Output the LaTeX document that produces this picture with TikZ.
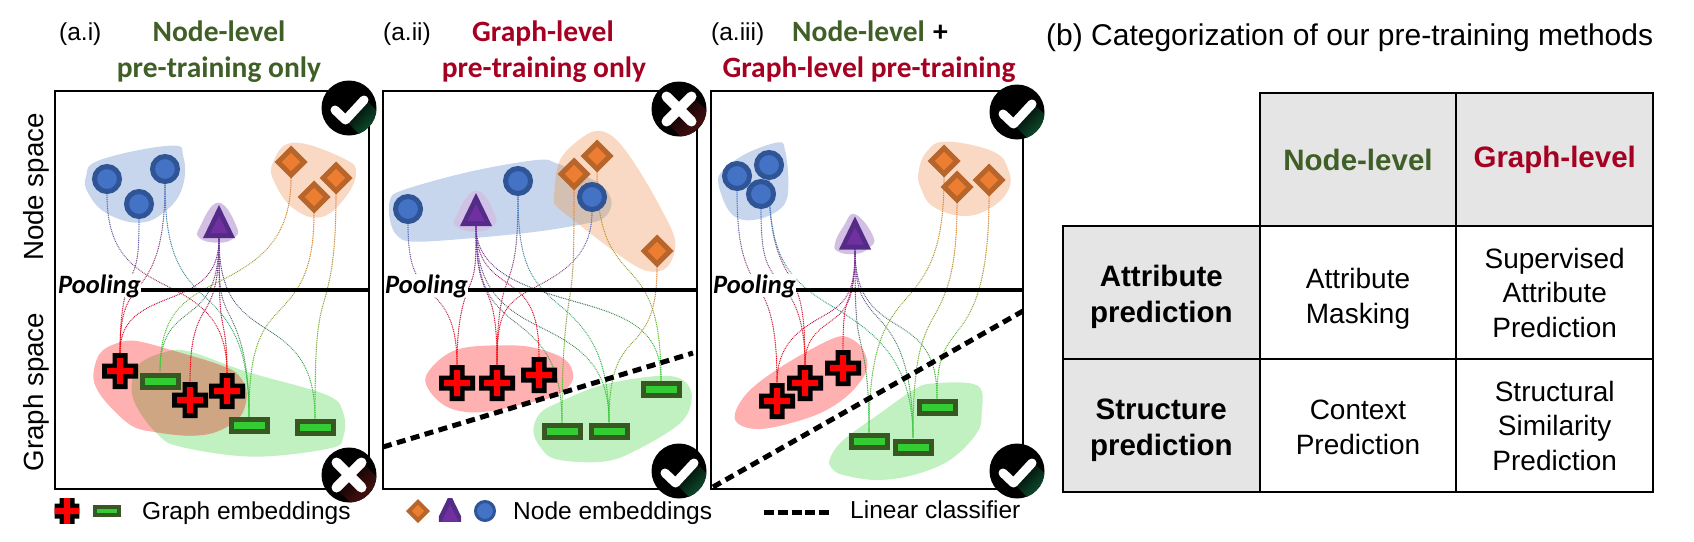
\documentclass[tikz,border=0pt]{standalone}
\usepackage{fontspec}
\setmainfont{Liberation Sans}
\newfontfamily\calfont{Carlito}
\usetikzlibrary{calc,shapes.geometric,decorations.markings}
\definecolor{bl}{HTML}{4472C4}\definecolor{bld}{HTML}{2F5597}
\definecolor{orn}{HTML}{ED7D31}\definecolor{ornd}{HTML}{B7652A}
\definecolor{pur}{HTML}{7030A0}\definecolor{purd}{HTML}{542C87}
\definecolor{rd}{HTML}{FF0000}\definecolor{grn}{HTML}{33CC33}\definecolor{grnd}{HTML}{385723}
\definecolor{bblue}{HTML}{C7D5ED}\definecolor{borange}{HTML}{F9D9C3}\definecolor{bpur}{HTML}{D2BFE3}
\definecolor{bred}{HTML}{FFB0B0}\definecolor{bgreen}{HTML}{C1F0C1}
\definecolor{ovlA}{HTML}{CFA684}\definecolor{ovlB}{HTML}{D4BFB3}
\definecolor{ttlgreen}{HTML}{3F5F27}\definecolor{ttlred}{HTML}{A50021}\definecolor{cellgray}{HTML}{E5E5E5}
\definecolor{shgreen}{HTML}{0F5A35}\definecolor{shred}{HTML}{561414}
\pgfdeclarelayer{blobs}\pgfdeclarelayer{conns}\pgfsetlayers{blobs,conns,main}
\tikzset{
 z/.style 2 args={shift={(#1,#2)},scale=0.33333},
 gradline/.style 2 args={decoration={markings,mark=between positions 0 and 1 step 1.8pt with {%
   \pgfmathtruncatemacro\pc{min(100,\pgfkeysvalueof{/pgf/decoration/mark info/distance from start}/\pgfdecoratedpathlength*100)}%
   \fill[#2!\pc!#1] (0,0) circle[radius=.7pt];}},postaction={decorate}},
 cnode/.style={circle,draw=bld,fill=bl,line width=5pt,minimum size=#1,inner sep=0pt},
 cnode/.default=25pt,
 dnode/.style={diamond,aspect=1,draw=ornd,fill=orn,line width=5pt,minimum size=#1,inner sep=0pt},
 dnode/.default=28pt,
 gnode/.style={rectangle,draw=grnd,fill=grn,line width=5pt,minimum width=36pt,minimum height=12pt,inner sep=0pt},
 tnode/.style={rectangle,inner sep=0pt,outer sep=0pt,minimum width=#1*32pt,minimum height=#1*33pt,
  path picture={\begin{scope}[shift={(path picture bounding box.center)},scale=#1]
    \fill[purd] (0,-16.5)--(16,16.5)--(-16,16.5)--cycle;
    \fill[pur] (0,-5.5)--(8.5,11.5)--(-8.5,11.5)--cycle;\end{scope}}},
 tnode/.default=1,
 pnode/.style={rectangle,inner sep=0pt,outer sep=0pt,minimum size=#1*36pt,
  path picture={\begin{scope}[shift={(path picture bounding box.center)},scale=#1]
    \fill[black] (-7.5,-18)--(7.5,-18)--(7.5,-7.5)--(18,-7.5)--(18,7.5)--(7.5,7.5)--(7.5,18)--(-7.5,18)--(-7.5,7.5)--(-18,7.5)--(-18,-7.5)--(-7.5,-7.5)--cycle;
    \fill[rd] (-3.2,-13)--(3.2,-13)--(3.2,-3.2)--(13,-3.2)--(13,3.2)--(3.2,3.2)--(3.2,13)--(-3.2,13)--(-3.2,3.2)--(-13,3.2)--(-13,-3.2)--(-3.2,-3.2)--cycle;\end{scope}}},
 pnode/.default=1,
 okbadge/.style={circle,fill=black,minimum size=55pt,inner sep=0pt,
  path picture={\begin{scope}[shift={(path picture bounding box.center)}]
    \shade[top color=shgreen,bottom color=black,shading angle=225] (-3,13)--(16,-9)--(32,7)--(11,27)--cycle;
    \draw[white,line width=9pt,line cap=round,line join=round] (-14,2)--(-3.5,12)--(15,-8);\end{scope}}},
 nobadge/.style={circle,fill=black,minimum size=55pt,inner sep=0pt,
  path picture={\begin{scope}[shift={(path picture bounding box.center)}]
    \shade[top color=shred,bottom color=black,shading angle=225] (13,-13)--(32,6)--(6,32)--(-13,13)--cycle;
    \draw[white,line width=10pt,line cap=round] (-12.5,-12.5)--(12.5,12.5) (12.5,-12.5)--(-12.5,12.5);\end{scope}}},
 frame/.style={draw=black,line width=2pt},
 poolline/.style={draw=black,line width=3.5pt},
 classline/.style={draw=black,line width=5pt,dash pattern=on 9pt off 5.5pt},
 pooltxt/.style={anchor=base west,fill=white,inner sep=0pt,font=\calfont\bfseries\itshape\fontsize{26.5}{30}\selectfont},
 lab/.style={anchor=base west,inner sep=0pt,font=\fontsize{24.5}{30}\selectfont},
 ttl/.style={anchor=base,inner sep=0pt,font=\calfont\bfseries\fontsize{29.5}{34}\selectfont},
 axislab/.style={anchor=base,rotate=90,inner sep=0pt,font=\fontsize{27.7}{32}\selectfont},
 tcell/.style={rectangle,draw=black,line width=2pt,minimum width=196.7pt,minimum height=133pt,inner sep=0pt,align=center},
 tbody/.style={tcell,font=\fontsize{28}{34.5}\selectfont},
 thead/.style={tcell,fill=cellgray,font=\bfseries\fontsize{29.5}{36}\selectfont},
 celltxt/.style={inner sep=0pt,align=center,font=\fontsize{28}{34.5}\selectfont},
 cellhead/.style={inner sep=0pt,align=center,font=\bfseries\fontsize{29.5}{36}\selectfont},
}
\newcommand{\conn}[5]{%
 \coordinate (m) at (#3);
 \path[gradline={#4}{#5}] let \p1=($(#2.north)-(#1.south)$) in
  (#1.south) .. controls ($(#1.south)!.6!(#1.south|-m)$) and ($(m)-(.3*\x1,.1*\y1)$) .. (m)
  .. controls ($(m)+(.3*\x1,.1*\y1)$) and ($(#2.north)!.6!(#2.north|-m)$) .. (#2.north);}
\begin{document}
\begin{tikzpicture}[x=1pt,y=-1pt]
\useasboundingbox (0,0) rectangle (1694,541);
% ---- blobs
\begin{pgfonlayer}{blobs}
\begin{scope}[z={0}{0}]
 \fill[bblue] plot[smooth cycle,tension=.7] coordinates {(258,530)(300,480)(510,437)(550,470)(548,560)(500,630)(420,668)(320,640)(265,580)};
 \fill[borange] plot[smooth cycle,tension=.7] coordinates {(818,490)(880,428)(1030,475)(1068,520)(1030,600)(960,652)(880,625)(825,550)};
 \fill[bpur] plot[smooth cycle,tension=.8] coordinates {(655,608)(710,680)(700,715)(655,728)(600,715)(600,680)};
\end{scope}
\begin{scope}[z={0}{270}]
 \def\rA{plot[smooth cycle,tension=.6] coordinates {(280,315)(300,250)(350,220)(410,213)(530,245)(660,285)(715,315)(740,370)(720,440)(650,485)(570,497)(470,487)(400,470)(340,420)(295,365)}}
 \def\gA{plot[smooth cycle,tension=.6] coordinates {(395,345)(420,280)(500,245)(570,245)(740,305)(980,375)(1030,430)(1030,500)(990,535)(760,560)(540,530)(470,490)(410,410)}}
 \fill[bgreen] \gA;
 \fill[bred] \rA;
 \begin{scope}\clip \gA; \fill[ovlA] \rA; \end{scope}
\end{scope}
\begin{scope}[z={370}{0}]
 \def\bB{plot[smooth cycle,tension=.6] coordinates {(60,600)(100,570)(300,515)(500,480)(560,490)(640,525)(700,560)(725,610)(700,655)(640,672)(500,695)(300,715)(130,725)(80,705)(60,660)}}
 \def\oB{plot[smooth cycle,tension=.6] coordinates {(552,590)(570,480)(640,410)(690,393)(740,420)(800,500)(870,620)(915,720)(900,790)(860,815)(800,800)(700,730)(610,660)(560,620)}}
 \fill[bblue] \bB;
 \fill[borange] \oB;
 \begin{scope}\clip \bB; \fill[ovlB] \oB; \end{scope}
 \fill[bpur!85!bblue] plot[smooth cycle,tension=.8] coordinates {(318,572)(375,645)(365,680)(318,695)(265,682)(258,650)};
\end{scope}
\begin{scope}[z={370}{270}]
 \fill[bred] plot[smooth cycle,tension=.6] coordinates {(168,318)(220,260)(290,232)(420,226)(500,235)(580,265)(608,305)(600,345)(550,380)(470,400)(380,420)(300,427)(230,410)(180,365)};
 \fill[bgreen] plot[smooth cycle,tension=.6] coordinates {(490,480)(510,430)(560,400)(680,350)(800,325)(900,318)(950,340)(965,390)(930,460)(800,540)(700,575)(560,568)(510,530)};
\end{scope}
\begin{scope}[z={700}{0}]
 \fill[bblue] plot[smooth cycle,tension=.6] coordinates {(55,550)(70,510)(140,460)(235,427)(255,450)(265,540)(255,610)(200,650)(130,660)(85,630)};
 \fill[borange] plot[smooth cycle,tension=.7] coordinates {(655,520)(680,455)(740,425)(880,455)(925,510)(925,570)(870,625)(790,648)(700,620)(665,570)};
 \fill[bpur] plot[smooth cycle,tension=.8] coordinates {(465,643)(520,710)(505,745)(465,762)(415,755)(405,730)(430,680)};
\end{scope}
\begin{scope}[z={700}{270}]
 \fill[bred] plot[smooth cycle,tension=.6] coordinates {(105,430)(150,360)(260,280)(400,205)(450,205)(490,240)(500,300)(450,370)(370,425)(270,460)(180,477)(120,465)};
 \fill[bgreen] plot[smooth cycle,tension=.6] coordinates {(390,565)(430,510)(540,430)(640,360)(700,340)(833,347)(845,430)(830,490)(750,570)(640,615)(530,630)(430,615)(395,595)};
\end{scope}
\end{pgfonlayer}
% ---- frames and rules
\draw[frame] (55,91) rectangle (369,489);
\draw[frame] (383,91) rectangle (697,489);
\draw[frame] (711,91) rectangle (1023,489);
\node[pooltxt] (pool1) at (58,293) {Pooling};
\node[pooltxt] (pool2) at (385,293) {Pooling};
\node[pooltxt] (pool3) at (713,293) {Pooling};
\coordinate (pe1) at (369,290);\coordinate (pe2) at (697,290);\coordinate (pe3) at (1023,290);
\draw[poolline] (pool1.east|-pe1) -- (pe1);
\draw[poolline] (pool2.east|-pe2) -- (pe2);
\draw[poolline] (pool3.east|-pe3) -- (pe3);
\coordinate (cl2a) at (383,447);\coordinate (cl2b) at (693,353);
\coordinate (cl3a) at (713,487);\coordinate (cl3b) at (1023,311);
\draw[classline] (cl2a) -- (cl2b);
\draw[classline] (cl3a) -- (cl3b);
% ---- panel 1 nodes
\node[cnode] (ac1) at (107,179) {};\node[cnode] (ac2) at (165,169) {};\node[cnode] (ac3) at (139,204) {};
\node[tnode] (at) at (219,221.5) {};
\node[dnode] (ad1) at (291,162) {};\node[dnode] (ad2) at (336,178) {};\node[dnode] (ad3) at (314,197) {};
\node[pnode] (ap1) at (120,371) {};\node[pnode] (ap2) at (190,400) {};\node[pnode] (ap3) at (227,391) {};
\node[gnode] (ag1) at (160,381) {};\node[gnode] (ag2) at (249,425) {};\node[gnode] (ag3) at (315,427) {};
% ---- panel 2 nodes
\node[cnode] (bc1) at (408,209) {};\node[cnode] (bc2) at (518,181) {};\node[cnode] (bc3) at (592,197) {};
\node[tnode] (bt) at (476,209.5) {};
\node[dnode] (bd1) at (574,174) {};\node[dnode] (bd2) at (597,156) {};\node[dnode] (bd3) at (657,251) {};
\node[pnode] (bp1) at (457,383) {};\node[pnode] (bp2) at (497,383) {};\node[pnode] (bp3) at (539,375) {};
\node[gnode] (bg1) at (562,431) {};\node[gnode] (bg2) at (609,431) {};\node[gnode] (bg3) at (661,389) {};
% ---- panel 3 nodes
\node[cnode] (cc1) at (737,176) {};\node[cnode] (cc2) at (769,165) {};\node[cnode] (cc3) at (761,194) {};
\node[tnode] (ct) at (855,233) {};
\node[dnode] (cd1) at (944,161) {};\node[dnode] (cd2) at (957,187) {};\node[dnode] (cd3) at (989,180) {};
\node[pnode] (cp1) at (777,401) {};\node[pnode] (cp2) at (805,383) {};\node[pnode] (cp3) at (843,368) {};
\node[gnode] (cg1) at (869,441) {};\node[gnode] (cg2) at (913,447) {};\node[gnode] (cg3) at (937,407) {};
% ---- connectors
\begin{pgfonlayer}{conns}
\conn{ac1}{ap3}{165,285}{bl}{rd}
\conn{ac3}{ap1}{132,275}{bl}{rd}
\conn{ac2}{ap1}{140,285}{bl}{rd}
\conn{ac2}{ag2}{205,297}{bl}{grn}
\conn{at}{ap1}{170,298}{pur}{rd}
\conn{at}{ap2}{205,310}{pur}{rd}
\conn{at}{ap3}{222,320}{pur}{rd}
\conn{at}{ag1}{190,312}{pur}{grn}
\conn{at}{ag2}{228,312}{pur}{grn}
\conn{at}{ag3}{265,328}{pur}{grn}
\conn{ad1}{ag1}{218,282}{orn}{grn}
\conn{ad3}{ag2}{278,312}{orn}{grn}
\conn{ad2}{ag3}{323,305}{orn}{grn}
\conn{bc1}{bp1}{430,292}{bl}{rd}
\conn{bc2}{bp2}{508,280}{bl}{rd}
\conn{bc2}{bg2}{557,303}{bl}{grn}
\conn{bc3}{bp2}{530,290}{bl}{rd}
\conn{bd1}{bg1}{570,295}{orn}{grn}
\conn{bd2}{bg3}{630,272}{orn}{grn}
\conn{bd3}{bg2}{632,343}{orn}{grn}
\conn{bt}{bp1}{470,285}{pur}{rd}
\conn{bt}{bp2}{487,293}{pur}{rd}
\conn{bt}{bp3}{510,285}{pur}{rd}
\conn{bt}{bg1}{515,322}{pur}{grn}
\conn{bt}{bg2}{540,327}{pur}{grn}
\conn{bt}{bg3}{580,303}{pur}{grn}
\conn{cc1}{cp1}{757,285}{bl}{rd}
\conn{cc3}{cp2}{778,280}{bl}{rd}
\conn{cc2}{cp2}{790,277}{bl}{rd}
\conn{cc2}{cg2}{830,305}{bl}{grn}
\conn{ct}{cp1}{825,315}{pur}{rd}
\conn{ct}{cp2}{835,318}{pur}{rd}
\conn{ct}{cp3}{848,300}{pur}{rd}
\conn{ct}{cg1}{860,340}{pur}{grn}
\conn{ct}{cg2}{880,320}{pur}{grn}
\conn{ct}{cg3}{897,325}{pur}{grn}
\conn{cd1}{cg1}{905,300}{orn}{grn}
\conn{cd2}{cg2}{933,318}{orn}{grn}
\conn{cd3}{cg3}{960,328}{orn}{grn}
\end{pgfonlayer}
% ---- badges
\node[okbadge] (b1) at (349,108) {};
\node[nobadge] (b2) at (349,475) {};
\node[nobadge] (b3) at (679,109) {};
\node[okbadge] (b4) at (679,471) {};
\node[okbadge] (b5) at (1017,112) {};
\node[okbadge] (b6) at (1017,471) {};
% ---- titles
\node[lab] (la) at (59,40) {(a.i)};
\node[lab] (lb) at (383,40) {(a.ii)};
\node[lab] (lc) at (711,40) {(a.iii)};
\node[ttl,text=ttlgreen] (t1a) at (219,41) {Node-level};
\node[ttl,text=ttlgreen] (t1b) at (219,77) {pre-training only};
\node[ttl,text=ttlred] (t2a) at (543,41) {Graph-level};
\node[ttl,text=ttlred] (t2b) at (544,77) {pre-training only};
\node[ttl,text=ttlgreen,anchor=base west] (t3a) at (792,41) {Node-level};
\node[ttl,anchor=base west] (t3p) at (933,41) {+};
\node[ttl,text=ttlred] (t3b) at (869,77) {Graph-level pre-training};
\node[axislab] (ax1) at (43,187) {Node space};
\node[axislab] (ax2) at (43,392) {Graph space};
% ---- legend
\node[pnode=0.69] (lp) at (67,511) {};
\node[gnode,line width=4pt,minimum width=24pt,minimum height=8pt] (lg) at (107,511) {};
\node[lab] (lt1) at (142,519) {Graph embeddings};
\node[dnode=20pt,line width=4pt] (ld) at (418,511) {};
\node[tnode=0.69] (lt) at (450,510) {};
\node[cnode=19pt,line width=3pt] (lcirc) at (485,511) {};
\node[lab] (lt2) at (513,519) {Node embeddings};
\coordinate (dl1) at (764,512);\coordinate (dl2) at (829,512);
\draw[draw=black,line width=5pt,dash pattern=on 10pt off 3.75pt] (dl1) -- (dl2);
\node[lab] (lt3) at (850,518) {Linear classifier};
% ---- table
\node[anchor=base west,inner sep=0pt,font=\fontsize{30}{34}\selectfont] (bt0) at (1046,45) {(b) Categorization of our pre-training methods};
\node[thead,text=ttlgreen] (h1) at (1358,159.5) {Node-level};
\node[thead,text=ttlred] (h2) at (1554.7,159.5) {Graph-level};
\node[thead] (r1) at (1161.3,292.5) {};
\node[cellhead] (r1t) at (1161.3,297) {Attribute\\prediction};
\node[thead] (r2) at (1161.3,425.5) {};
\node[cellhead] (r2t) at (1161.3,430) {Structure\\prediction};
\node[tbody] (c11) at (1358,292.5) {};
\node[celltxt] (c11t) at (1358,299) {Attribute\\Masking};
\node[tbody] (c12) at (1554.7,292.5) {Supervised\\Attribute\\Prediction};
\node[tbody] (c21) at (1358,425.5) {};
\node[celltxt] (c21t) at (1358,427.5) {Context\\Prediction};
\node[tbody] (c22) at (1554.7,425.5) {Structural\\Similarity\\Prediction};
\end{tikzpicture}
\end{document}
